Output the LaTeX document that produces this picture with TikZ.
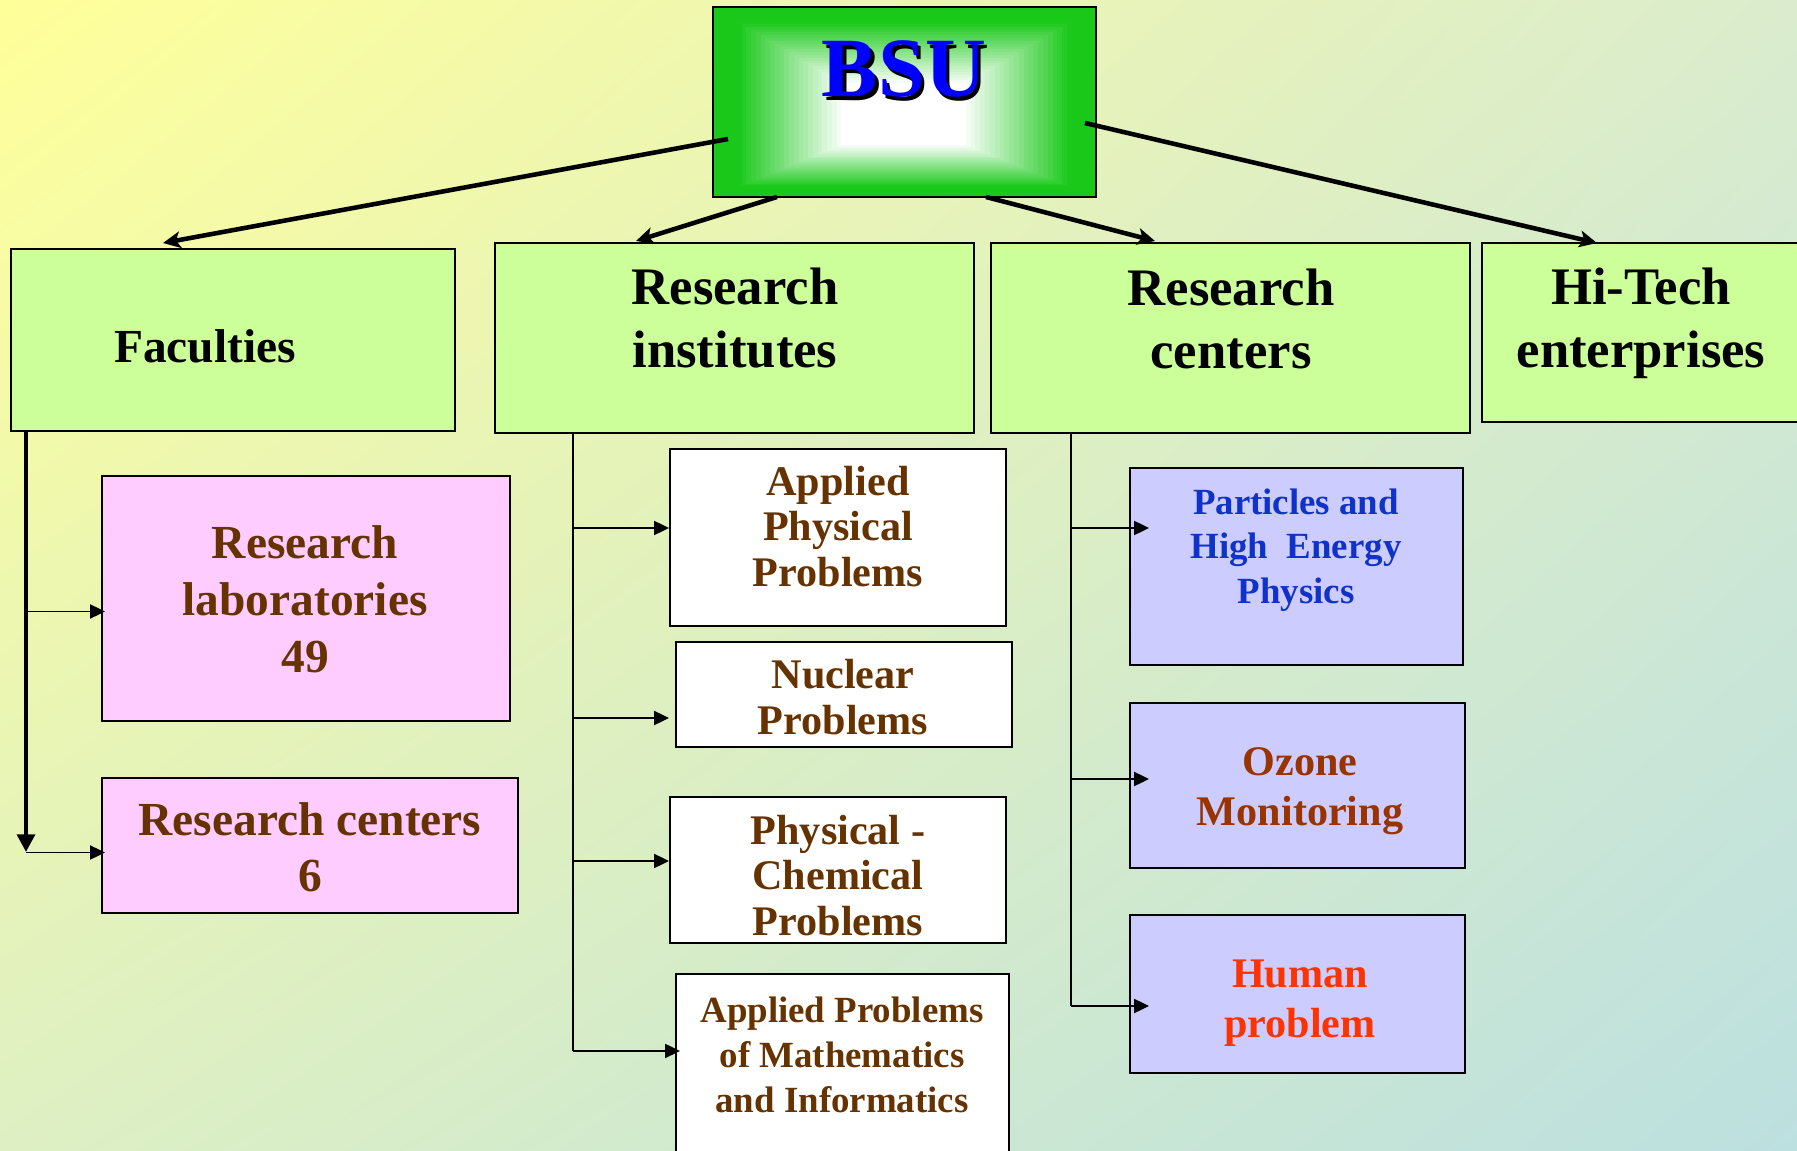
\documentclass[tikz,border=0pt]{standalone}
\usepackage{fontspec}
\setmainfont{Liberation Serif}
\usetikzlibrary{arrows.meta, calc, shadings}
\definecolor{bsuGreen}{RGB}{25,200,25}
\definecolor{bsuBlue}{RGB}{0,0,255}
\definecolor{boxGreen}{RGB}{204,255,153}
\definecolor{boxPink}{RGB}{255,204,255}
\definecolor{boxLilac}{RGB}{204,204,255}
\definecolor{txtBrown}{RGB}{102,51,0}
\definecolor{txtBlue}{RGB}{16,50,200}
\definecolor{txtRust}{RGB}{153,51,0}
\definecolor{txtRed}{RGB}{255,51,0}
\definecolor{bgUL}{RGB}{255,255,153}
\definecolor{bgUR}{RGB}{218,236,205}
\definecolor{bgLL}{RGB}{222,240,195}
\definecolor{bgLR}{RGB}{188,224,224}
\newcommand{\shadowed}[1]{\makebox[0pt][l]{\raisebox{-2pt}{\hspace*{2pt}\color{black}#1}}#1}

\begin{document}
\begin{tikzpicture}[
    x=0.02cm, y=-0.02cm,
    box/.style={
        rectangle,
        draw=black,
        line width=1pt,
        inner sep=0pt,
        outer sep=0pt
    },
    unitbox/.style={box, fill=boxGreen},
    labbox/.style={box, fill=boxPink},
    instbox/.style={box, fill=white},
    centrebox/.style={box, fill=boxLilac},
    lbl/.style={align=center, inner sep=0pt},
    headtext/.style={lbl, font=\fontsize{30}{36}\selectfont\bfseries},
    labtext/.style={lbl, font=\fontsize{27}{32.4}\selectfont\bfseries, text=txtBrown},
    insttext/.style={lbl, font=\fontsize{24}{26}\selectfont\bfseries, text=txtBrown},
    smalltext/.style={lbl, font=\fontsize{21}{25.5}\selectfont\bfseries},
    centretext/.style={lbl, font=\fontsize{24}{28.4}\selectfont\bfseries},
    bigarrow/.style={-{Stealth[length=10pt,width=9.5pt,inset=2.5pt]}, line width=2.6pt},
    trunk/.style={line width=2.4pt},
    thinline/.style={line width=1pt},
    branch/.style={-{Triangle[length=8.5pt,width=8pt]}, line width=1pt}
]
    \useasboundingbox (0,0) rectangle (1797,1151);
    \clip (0,0) rectangle (1797,1151);
    \shade[upper left=bgUL, upper right=bgUR, lower left=bgLL, lower right=bgLR]
        (0,0) rectangle (1797,1151);

    % BSU box, green fading to white
    \foreach \i in {0,...,39}{
        \pgfmathsetmacro\pct{min(100,max(0,100-180*(\i/40-0.12)))}
        \fill[bsuGreen!\pct!white] (713+4.75*\i,7+2.825*\i) rectangle (1096-4.825*\i,197-1.925*\i);
    }
    \node[box, minimum width=7.66cm, minimum height=3.80cm] (bsu) at (904.5,102) {};
    \node[lbl, font=\fontsize{48}{56}\selectfont\bfseries, text=bsuBlue] (bsuLbl) at (904,71) {\shadowed{BSU}};

    % first level
    \node[unitbox, minimum width=8.88cm, minimum height=3.64cm] (faculties) at (233,340) {};
    \node[unitbox, minimum width=9.58cm, minimum height=3.80cm] (institutes) at (734.5,338) {};
    \node[unitbox, minimum width=9.58cm, minimum height=3.80cm] (centers) at (1230.5,338) {};
    \node[unitbox, minimum width=6.34cm, minimum height=3.58cm] (hitech) at (1640.5,332.5) {};
    \node[lbl, font=\fontsize{27}{32}\selectfont\bfseries] (facultiesLbl) at (205,346) {Faculties};
    \node[headtext] (institutesLbl) at (735,318) {Research\\institutes};
    \node[headtext] (centersLbl) at (1231,319) {Research\\centers};
    \node[headtext] (hitechLbl) at (1641,323) {Hi-Tech\\enterprises};

    % faculties
    \node[labbox, minimum width=8.16cm, minimum height=4.90cm] (labs) at (306,598.5) {};
    \node[labbox, minimum width=8.32cm, minimum height=2.70cm] (fcenters) at (310,845.5) {};
    \node[labtext] (labsLbl) at (305,599.5) {Research\\laboratories\\49};
    \node[labtext, font=\fontsize{27}{32}\selectfont\bfseries] (fcentersLbl) at (310,847.5) {Research centers\\6};

    % institutes
    \node[instbox, minimum width=6.72cm, minimum height=3.54cm] (applphys) at (838,537.5) {};
    \node[instbox, minimum width=6.72cm, minimum height=2.10cm] (nuclear) at (844,694.5) {};
    \node[instbox, minimum width=6.72cm, minimum height=2.92cm] (physchem) at (838,870) {};
    \node[instbox, minimum width=6.66cm, minimum height=4.60cm, anchor=north] (mathinf) at (842.5,974) {};
    \node[insttext] (applphysLbl) at (838,526.5) {Applied\\Physical\\Problems};
    \node[insttext] (nuclearLbl) at (843,697) {Nuclear\\Problems};
    \node[insttext] (physchemLbl) at (838,875.5) {Physical -\\Chemical\\Problems};
    \node[smalltext, text=txtBrown] (mathinfLbl) at (842,1055) {Applied Problems\\of Mathematics\\and Informatics};

    % research centers
    \node[centrebox, minimum width=6.66cm, minimum height=3.94cm] (particles) at (1296.5,566.5) {};
    \node[centrebox, minimum width=6.70cm, minimum height=3.30cm] (ozone) at (1297.5,785.5) {};
    \node[centrebox, minimum width=6.70cm, minimum height=3.16cm] (human) at (1297.5,994) {};
    \node[smalltext, text=txtBlue] (particlesLbl) at (1296,550) {Particles and\\High\ \ Energy\\Physics};
    \node[centretext, text=txtRust] (ozoneLbl) at (1300,791) {Ozone\\Monitoring};
    \node[centretext, text=txtRed] (humanLbl) at (1300,1003) {Human\\problem};

    % BSU to first level
    \draw[bigarrow] ([shift={(15,37)}]bsu.west) -- ([shift={(-70,-6)}]faculties.north);
    \draw[bigarrow] ([shift={(-127.5,0)}]bsu.south) -- ([shift={(-98.5,-2)}]institutes.north);
    \draw[bigarrow] ([shift={(81.5,0)}]bsu.south) -- ([shift={(-75.5,-2)}]centers.north);
    \draw[bigarrow] ([shift={(-11,21)}]bsu.east) -- ([shift={(-43.5,0)}]hitech.north);

    % faculties branches
    \coordinate (facEnd) at (26,852);
    \coordinate (labsTip) at ([shift={(3,13)}]labs.west);
    \coordinate (fcentersTip) at ([shift={(3,7)}]fcenters.west);
    \draw[trunk, -{Triangle[length=10pt,width=10pt]}] (faculties.south west -| facEnd) -- (facEnd);
    \draw[branch] (labsTip -| facEnd) -- (labsTip);
    \draw[branch] (fcentersTip -| facEnd) -- (fcentersTip);

    % institutes branches
    \coordinate (instTop) at ([shift={(-161.5,0)}]institutes.south);
    \coordinate (applphysTip) at ([shift={(-1,-9.5)}]applphys.west);
    \coordinate (nuclearTip) at ([shift={(-7,23.5)}]nuclear.west);
    \coordinate (physchemTip) at ([shift={(-1,-9)}]physchem.west);
    \coordinate (mathinfTip) at ([shift={(4,-38)}]mathinf.west);
    \draw[thinline] (instTop) -- (instTop |- mathinfTip);
    \draw[branch] (applphysTip -| instTop) -- (applphysTip);
    \draw[branch] (nuclearTip -| instTop) -- (nuclearTip);
    \draw[branch] (physchemTip -| instTop) -- (physchemTip);
    \draw[branch] (mathinfTip -| instTop) -- (mathinfTip);

    % research centers branches
    \coordinate (centTop) at ([shift={(-159.5,0)}]centers.south);
    \coordinate (particlesTip) at ([shift={(19,-38.5)}]particles.west);
    \coordinate (ozoneTip) at ([shift={(19,-6.5)}]ozone.west);
    \coordinate (humanTip) at ([shift={(19,12)}]human.west);
    \draw[thinline] (centTop) -- (centTop |- humanTip);
    \draw[branch] (particlesTip -| centTop) -- (particlesTip);
    \draw[branch] (ozoneTip -| centTop) -- (ozoneTip);
    \draw[branch] (humanTip -| centTop) -- (humanTip);

\end{tikzpicture}
\end{document}
